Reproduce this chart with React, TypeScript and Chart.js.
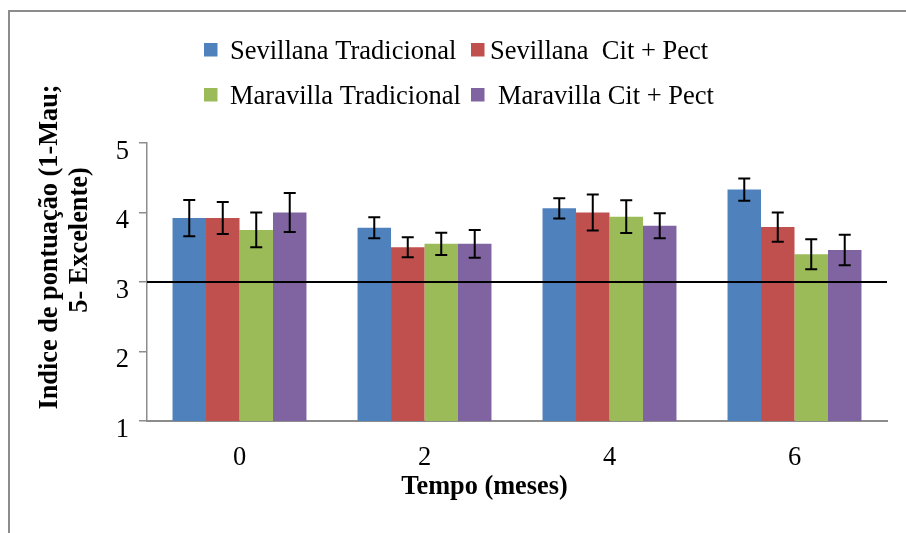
import React, { useEffect, useRef } from "react";
import { Chart, registerables } from "chart.js";

Chart.register(...registerables);

const CATEGORIES = ["0", "2", "4", "6"];
const SERIES_NAMES = [
  "Sevillana Tradicional",
  "Sevillana  Cit + Pect",
  "Maravilla Tradicional",
  "Maravilla Cit + Pect",
];
const SEVILLANA_TRAD = [3.92, 3.78, 4.06, 4.33];
const SEVILLANA_CP = [3.92, 3.5, 4.0, 3.79];
const MARAVILLA_TRAD = [3.75, 3.55, 3.94, 3.4];
const MARAVILLA_CP = [4.0, 3.55, 3.81, 3.46];
const SEVILLANA_TRAD_ERR = [0.26, 0.15, 0.145, 0.16];
const SEVILLANA_CP_ERR = [0.23, 0.145, 0.26, 0.21];
const MARAVILLA_TRAD_ERR = [0.25, 0.16, 0.235, 0.215];
const MARAVILLA_CP_ERR = [0.28, 0.2, 0.18, 0.22];
const Y_TICKS = [1, 2, 3, 4, 5];
const REFERENCE_LINE = 3;
const Y_TITLE = ["Indice de pontuação (1-Mau;", "5- Excelente)"];
const X_TITLE = "Tempo (meses)";

const COLORS = ["#4F81BD", "#C0504D", "#9BBB59", "#8064A2"];
const SERIES = [SEVILLANA_TRAD, SEVILLANA_CP, MARAVILLA_TRAD, MARAVILLA_CP];
const ERRORS = [SEVILLANA_TRAD_ERR, SEVILLANA_CP_ERR, MARAVILLA_TRAD_ERR, MARAVILLA_CP_ERR];

const FONT = "'Liberation Serif', 'Times New Roman', serif";

const decorPlugin = {
  id: "decor",
  afterDatasetsDraw(chart: any) {
    const ctx = chart.ctx;
    const y = chart.scales.y;
    const area = chart.chartArea;
    ctx.save();
    ctx.strokeStyle = "#000";
    ctx.lineWidth = 2;
    const ry = y.getPixelForValue(REFERENCE_LINE);
    ctx.beginPath();
    ctx.moveTo(area.left, ry);
    ctx.lineTo(area.right, ry);
    ctx.stroke();
    chart.data.datasets.forEach((ds: any, di: number) => {
      const meta = chart.getDatasetMeta(di);
      meta.data.forEach((el: any, i: number) => {
        const v = ds.data[i];
        const e = ERRORS[di][i];
        const top = y.getPixelForValue(v + e);
        const bot = y.getPixelForValue(v - e);
        const x = el.x;
        ctx.beginPath();
        ctx.moveTo(x, top);
        ctx.lineTo(x, bot);
        ctx.moveTo(x - 6, top);
        ctx.lineTo(x + 6, top);
        ctx.moveTo(x - 6, bot);
        ctx.lineTo(x + 6, bot);
        ctx.stroke();
      });
    });
    ctx.restore();
  },
  afterDraw(chart: any) {
    const ctx = chart.ctx;
    ctx.save();
    ctx.strokeStyle = "#8c8c8c";
    ctx.lineWidth = 2;
    ctx.beginPath();
    ctx.moveTo(9, chart.height);
    ctx.lineTo(9, 11);
    ctx.lineTo(chart.width, 11);
    ctx.stroke();
    const legendPos = [
      { sx: 204, sy: 43, tx: 230, ty: 59 },
      { sx: 471, sy: 43, tx: 490, ty: 59 },
      { sx: 204, sy: 88, tx: 230, ty: 104 },
      { sx: 471, sy: 88, tx: 498, ty: 104 },
    ];
    ctx.font = `26.5px ${FONT}`;
    ctx.textBaseline = "alphabetic";
    ctx.textAlign = "left";
    SERIES_NAMES.forEach((name, i) => {
      const p = legendPos[i];
      ctx.fillStyle = COLORS[i];
      ctx.fillRect(p.sx, p.sy, 13.5, 13.5);
      ctx.fillStyle = "#000";
      ctx.fillText(name, p.tx, p.ty);
    });
    ctx.font = `bold 26.3px ${FONT}`;
    ctx.textAlign = "center";
    ctx.fillStyle = "#000";
    ctx.fillText(X_TITLE, 484.5, 494);
    ctx.textBaseline = "middle";
    const centers = [
      { x: 50, y: 247 },
      { x: 80, y: 240 },
    ];
    Y_TITLE.forEach((t, i) => {
      ctx.save();
      ctx.translate(centers[i].x, centers[i].y);
      ctx.rotate(-Math.PI / 2);
      ctx.fillText(t, 0, 0);
      ctx.restore();
    });
    ctx.restore();
  },
};

export default function App() {
  const ref = useRef<HTMLCanvasElement>(null);
  useEffect(() => {
    if (!ref.current) return;
    const chart = new Chart(ref.current, {
      type: "bar",
      data: {
        labels: CATEGORIES,
        datasets: SERIES.map((d, i) => ({
          label: SERIES_NAMES[i],
          data: d,
          backgroundColor: COLORS[i],
          borderWidth: 0,
          categoryPercentage: 0.724,
          barPercentage: 1,
        })),
      },
      options: {
        responsive: false,
        animation: false,
        devicePixelRatio: 1,
        layout: { padding: { left: 0, top: 143, right: 19, bottom: 0 } },
        plugins: {
          legend: { display: false },
          tooltip: { enabled: false },
          title: { display: false },
        },
        scales: {
          x: {
            grid: { display: false, drawTicks: false },
            border: { display: true, color: "#8c8c8c", width: 2 },
            ticks: { color: "#000", font: { family: FONT, size: 26.5 }, padding: 21 },
            afterFit: (s: any) => {
              s.height = 112;
            },
          },
          y: {
            min: 1,
            max: 5,
            afterBuildTicks: (s: any) => {
              s.ticks = Y_TICKS.map((v) => ({ value: v }));
            },
            grid: { drawOnChartArea: false, drawTicks: true, tickLength: 8, color: "#8c8c8c", lineWidth: 1.5 },
            border: { display: true, color: "#8c8c8c", width: 1.5 },
            ticks: {
              color: "#000",
              font: { family: FONT, size: 26.5 },
              padding: 10,
              labelOffset: 9,
            },
            afterFit: (s: any) => {
              s.width = 147;
            },
          },
        },
      },
      plugins: [decorPlugin],
    });
    return () => chart.destroy();
  }, []);
  return (
    <div style={{ position: "fixed", left: 0, top: 0, width: 906, height: 533, background: "#fff" }}>
      <canvas ref={ref} width={906} height={533} style={{ display: "block" }} />
    </div>
  );
}
